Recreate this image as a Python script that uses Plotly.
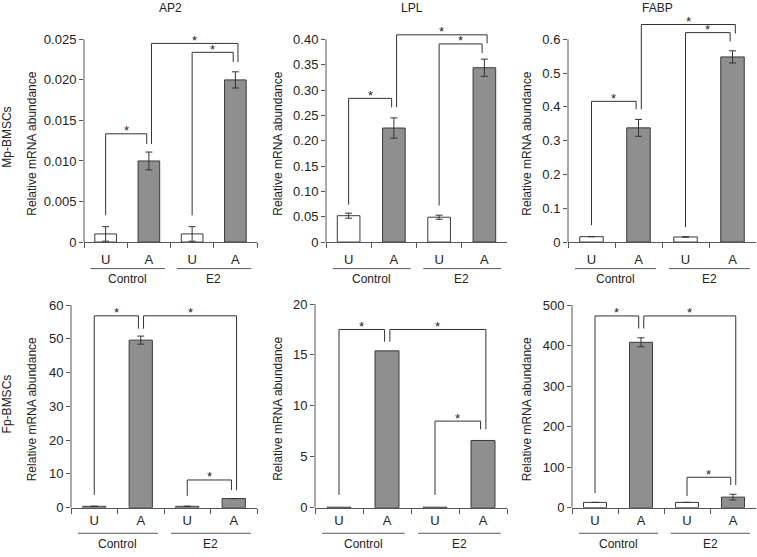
import plotly.graph_objects as go

W, H = 757, 557
FONT = "Liberation Sans, Arial, sans-serif"
TXT = "#222222"
AX = "#555555"

# ---------------- data ----------------
cats = ["Control-U", "Control-A", "E2-U", "E2-A"]
cat_labels = ["U", "A", "U", "A"]
groups = ["Control", "E2"]
genes = ["AP2", "LPL", "FABP"]
rows = ["Mp-BMSCs", "Fp-BMSCs"]

ap2_mp = [0.001, 0.010, 0.001, 0.020]
ap2_mp_err = [0.0009, 0.0011, 0.0009, 0.001]
lpl_mp = [0.052, 0.225, 0.049, 0.344]
lpl_mp_err = [0.005, 0.02, 0.004, 0.017]
fabp_mp = [0.016, 0.338, 0.015, 0.548]
fabp_mp_err = [0, 0.025, 0, 0.018]

ap2_fp = [0.4, 49.6, 0.4, 2.7]
ap2_fp_err = [0, 1.2, 0, 0]
lpl_fp = [0.05, 15.4, 0.05, 6.6]
lpl_fp_err = [0, 0, 0, 0]
fabp_fp = [13, 408, 13, 26]
fabp_fp_err = [0, 11, 0, 7]

# y-axis tick labels
ap2_mp_ticks = ["0", "0.005", "0.010", "0.015", "0.020", "0.025"]
lpl_mp_ticks = ["0", "0.05", "0.10", "0.15", "0.20", "0.25", "0.30", "0.35", "0.40"]
fabp_mp_ticks = ["0", "0.1", "0.2", "0.3", "0.4", "0.5", "0.6"]
ap2_fp_ticks = ["0", "10", "20", "30", "40", "50", "60"]
lpl_fp_ticks = ["0", "5", "10", "15", "20"]
fabp_fp_ticks = ["0", "100", "200", "300", "400", "500"]

# significance brackets: (left cat, right cat, top, left leg end, right leg end)
ap2_mp_br = [(0, 1, 0.01335, 0.0033, 0.0121), (1, 3, 0.0245, 0.0121, 0.0222), (2, 3, 0.0234, 0.0033, 0.0222)]
lpl_mp_br = [(0, 1, 0.2835, 0.074, 0.266), (1, 3, 0.409, 0.266, 0.392), (2, 3, 0.391, 0.072, 0.373)]
fabp_mp_br = [(0, 1, 0.4165, 0.05, 0.393), (1, 3, 0.644, 0.393, 0.617), (2, 3, 0.62, 0.044, 0.594)]
ap2_fp_br = [(0, 1, 56.8, 3.8, 53.0), (1, 3, 56.8, 53.0, 5.2), (2, 3, 8.2, 3.5, 5.2)]
lpl_fp_br = [(0, 1, 17.5, 1.25, 16.3), (1, 3, 17.5, 16.3, 7.7), (2, 3, 8.5, 1.25, 7.7)]
fabp_fp_br = [(0, 1, 473, 36, 442), (1, 3, 473, 442, 56), (2, 3, 75, 29, 56)]

# ---------------- layout geometry (pixels) ----------------
panels = [
    dict(vals=ap2_mp, err=ap2_mp_err, ticks=ap2_mp_ticks, br=ap2_mp_br, top=0.025,
         x0=84, x1=257, z=245, t=39, row=0, col=0),
    dict(vals=lpl_mp, err=lpl_mp_err, ticks=lpl_mp_ticks, br=lpl_mp_br, top=0.40,
         x0=326, x1=507, z=245, t=39, row=0, col=1),
    dict(vals=fabp_mp, err=fabp_mp_err, ticks=fabp_mp_ticks, br=fabp_mp_br, top=0.6,
         x0=568, x1=756, z=245, t=39, row=0, col=2),
    dict(vals=ap2_fp, err=ap2_fp_err, ticks=ap2_fp_ticks, br=ap2_fp_br, top=60,
         x0=71, x1=257, z=515, t=309, row=1, col=0),
    dict(vals=lpl_fp, err=lpl_fp_err, ticks=lpl_fp_ticks, br=lpl_fp_br, top=20,
         x0=315, x1=507, z=515, t=308, row=1, col=1),
    dict(vals=fabp_fp, err=fabp_fp_err, ticks=fabp_fp_ticks, br=fabp_fp_br, top=500,
         x0=572, x1=756, z=515, t=309, row=1, col=2),
]
ytitle_x = [32, 278, 527]
gene_x = [170, 412, 657]
row_label_y = [139, 410]
row_geom = [dict(stand=5, uline=27, glabel=38), dict(stand=1, uline=26, glabel=37)]

fig = go.Figure()
shapes, annotations = [], []
layout = {}

def px_x(p):
    return p / W

def px_y(p):
    return 1 - p / H

for i, p in enumerate(panels):
    n = "" if i == 0 else str(i + 1)
    xa, ya = "x" + n, "y" + n
    colors = ["white" if c.endswith("U") else "#8f8f8f" for c in cats]
    show_err = any(e > 0 for e in p["err"])
    fig.add_trace(go.Bar(
        x=cats, y=p["vals"], xaxis=xa, yaxis=ya, width=0.5,
        marker=dict(color=colors, line=dict(color="#3a3a3a", width=1)),
        error_y=dict(type="data", array=p["err"], visible=show_err,
                     color="#333333", thickness=1, width=3.5),
        showlegend=False, hoverinfo="skip",
    ))
    maxb = max(b[2] for b in p["br"])
    R = max(p["top"], maxb) * 1.03
    ppu = (p["z"] - p["t"]) / p["top"]
    ytop_px = p["z"] - R * ppu
    step = p["top"] / (len(p["ticks"]) - 1)
    tickvals = [k * step for k in range(len(p["ticks"]))]
    rg = row_geom[p["row"]]
    layout["xaxis" + n] = dict(
        domain=[px_x(p["x0"]), px_x(p["x1"])], anchor=ya, type="category",
        categoryorder="array", categoryarray=cats, range=[-0.5, 3.5],
        tickvals=cats, ticktext=cat_labels, tickson="boundaries",
        ticks="outside", ticklen=5, tickcolor=AX, tickwidth=1,
        showline=True, linecolor=AX, linewidth=1, showgrid=False, zeroline=False,
        tickfont=dict(size=13, color=TXT, family=FONT), ticklabelstandoff=rg["stand"],
        fixedrange=True,
    )
    layout["yaxis" + n] = dict(
        domain=[px_y(p["z"]), px_y(ytop_px)], anchor=xa, range=[0, R],
        tickvals=tickvals, ticktext=p["ticks"], ticks="outside", ticklen=4,
        tickcolor=AX, tickwidth=1, showline=False, showgrid=False, zeroline=False,
        tickfont=dict(size=13, color=TXT, family=FONT), fixedrange=True,
    )
    # y axis line up to top tick
    shapes.append(dict(type="line", xref=xa + " domain", yref=ya, x0=0, x1=0,
                       y0=0, y1=p["top"], line=dict(color=AX, width=1)))
    # brackets
    for (a, b, top, la, lb) in p["br"]:
        off_a = 0.06 if a == 1 else 0.0
        off_b = 0.06 if (a == 1 and b == 3) else -0.05
        xl, xr = a + off_a, b + off_b
        lc = dict(color="#333333", width=1)
        shapes.append(dict(type="line", xref=xa, yref=ya, x0=xl, x1=xl, y0=la, y1=top, line=lc))
        shapes.append(dict(type="line", xref=xa, yref=ya, x0=xl, x1=xr, y0=top, y1=top, line=lc))
        shapes.append(dict(type="line", xref=xa, yref=ya, x0=xr, x1=xr, y0=lb, y1=top, line=lc))
        annotations.append(dict(xref=xa, yref=ya, x=(xl + xr) / 2, y=top, text="*",
                                showarrow=False, yanchor="middle", yshift=3,
                                font=dict(size=13, color=TXT, family=FONT)))
    # group underlines + labels
    for g, gname in enumerate(groups):
        c0 = 2 * g
        shapes.append(dict(type="line", xref=xa, yref="paper", x0=c0 - 0.35, x1=c0 + 1.37,
                           y0=px_y(p["z"] + rg["uline"]), y1=px_y(p["z"] + rg["uline"]),
                           line=dict(color=AX, width=1)))
        annotations.append(dict(xref=xa, yref="paper", x=c0 + 0.5, y=px_y(p["z"] + rg["glabel"]),
                                text=gname, showarrow=False, yanchor="middle", xanchor="center",
                                font=dict(size=12, color=TXT, family=FONT)))
    # y-axis title
    annotations.append(dict(xref="paper", yref="paper", x=px_x(ytitle_x[p["col"]]),
                            y=px_y((p["z"] + p["t"]) / 2 + 3), text="Relative mRNA abundance",
                            textangle=-90, showarrow=False, xanchor="center", yanchor="middle",
                            font=dict(size=12, color=TXT, family=FONT)))

for j, g in enumerate(genes):
    annotations.append(dict(xref="paper", yref="paper", x=px_x(gene_x[j]), y=px_y(7),
                            text=g, showarrow=False, xanchor="center", yanchor="middle",
                            font=dict(size=12, color=TXT, family=FONT)))
for r, lab in enumerate(rows):
    annotations.append(dict(xref="paper", yref="paper", x=px_x(7), y=px_y(row_label_y[r]),
                            text=lab, textangle=-90, showarrow=False, xanchor="center",
                            yanchor="middle", font=dict(size=12, color=TXT, family=FONT)))

fig.update_layout(
    width=W, height=H, margin=dict(l=0, r=0, t=0, b=0),
    paper_bgcolor="white", plot_bgcolor="white",
    shapes=shapes, annotations=annotations, bargap=0.5,
    font=dict(family=FONT, color=TXT), **layout,
)
fig.write_html("out.html", config={"displayModeBar": False},
               post_script="document.body.style.margin='0';document.body.style.overflow='hidden';")
